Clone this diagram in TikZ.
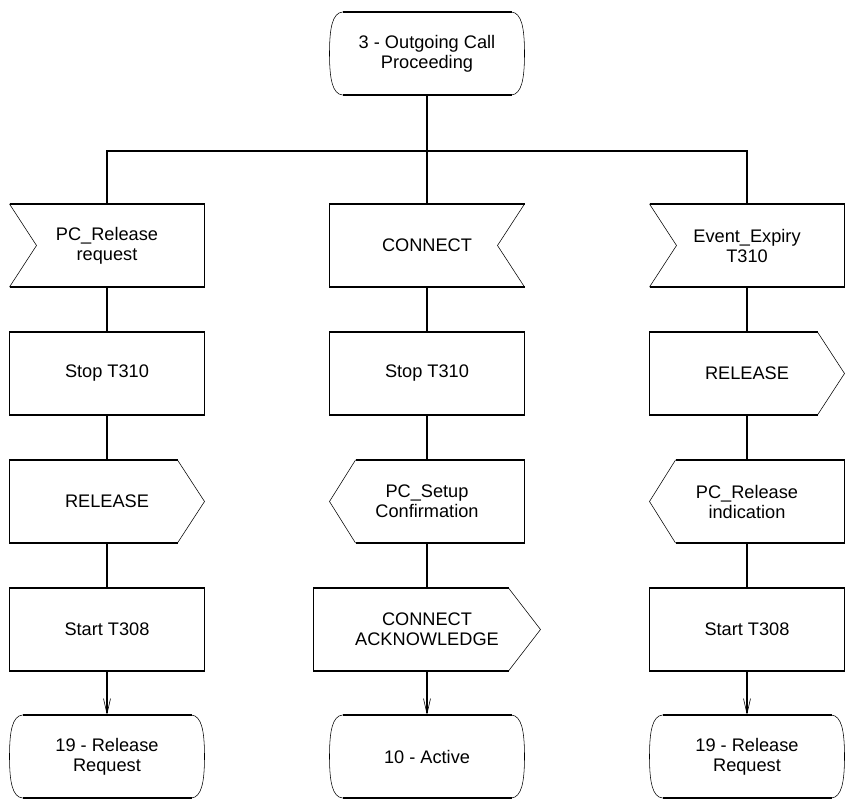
\documentclass[tikz,border=0pt]{standalone}
\usepackage{fontspec}
\setmainfont{Liberation Sans}
\usetikzlibrary{calc,arrows.meta}
\begin{document}
\begin{tikzpicture}[x=1pt,y=-1pt,
  lbl/.style={inner sep=0pt, outer sep=0pt, minimum width=195pt, minimum height=83pt,
    align=center, font=\fontsize{18.2}{20}\selectfont},
  edge/.style={line width=1.1pt},
  slant/.style={line width=0.55pt, line cap=round},
  conn/.style={line width=1.3pt},
  arr/.style={conn, -{Straight Barb[length=15pt,width=7pt,line width=0.6pt]}},
]
\useasboundingbox (0,0) rectangle (847,799);

% nodes
\node[lbl] (s0) at (427,53.5) {3 - Outgoing Call\\Proceeding};
\node[lbl] (l1) at (107,245.5) {PC\_Release\\request};
\node[lbl] (m1) at (427,245.5) {CONNECT};
\node[lbl] (r1) at (747,245.5) {Event\_Expiry\\T310};
\node[lbl] (l2) at (107,373.5) {Stop T310};
\node[lbl] (m2) at (427,373.5) {Stop T310};
\node[lbl] (r2) at (747,373.5) {RELEASE};
\node[lbl] (l3) at (107,501.5) {RELEASE};
\node[lbl] (m3) at (427,501.5) {PC\_Setup\\Confirmation};
\node[lbl] (r3) at (747,501.5) {PC\_Release\\indication};
\node[lbl] (l4) at (107,629.5) {Start T308};
\node[lbl, minimum width=227pt] (m4) at (427,629.5) {CONNECT\\ACKNOWLEDGE};
\node[lbl] (r4) at (747,629.5) {Start T308};
\node[lbl] (l5) at (107,756.5) {19 - Release\\Request};
\node[lbl] (m5) at (427,756.5) {10 - Active};
\node[lbl] (r5) at (747,756.5) {19 - Release\\Request};

% state outlines
\foreach \n in {s0,l5,m5,r5}{
  \draw[edge] ($(\n.north west)+(13,0)$) -- ($(\n.north east)+(-13,0)$);
  \draw[edge] ($(\n.south west)+(13,0)$) -- ($(\n.south east)+(-13,0)$);
  \draw[slant] ($(\n.north east)+(-13,0)$) .. controls ($(\n.north east)+(-3,1)$) and ($(\n.east)+(0,-26)$) .. (\n.east)
     .. controls ($(\n.east)+(0,26)$) and ($(\n.south east)+(-3,-1)$) .. ($(\n.south east)+(-13,0)$);
  \draw[slant] ($(\n.north west)+(13,0)$) .. controls ($(\n.north west)+(3,1)$) and ($(\n.west)+(0,-26)$) .. (\n.west)
     .. controls ($(\n.west)+(0,26)$) and ($(\n.south west)+(3,-1)$) .. ($(\n.south west)+(13,0)$);
}
% task boxes
\foreach \n in {l2,m2,l4,r4}{
  \draw[edge] (\n.north west) rectangle (\n.south east);
}
% input signals, notch on the left
\foreach \n in {l1,r1}{
  \draw[edge] (\n.north west) -- (\n.north east) -- (\n.south east) -- (\n.south west);
  \draw[slant] (\n.north west) -- ($(\n.west)+(27,0)$) -- (\n.south west);
}
% input signal, notch on the right
\foreach \n in {m1}{
  \draw[edge] (\n.north east) -- (\n.north west) -- (\n.south west) -- (\n.south east);
  \draw[slant] (\n.north east) -- ($(\n.east)+(-27,0)$) -- (\n.south east);
}
% output signals pointing right
\foreach \n/\d in {r2/27,l3/27,m4/32}{
  \draw[edge] ($(\n.north east)+(-\d,0)$) -- (\n.north west) -- (\n.south west) -- ($(\n.south east)+(-\d,0)$);
  \draw[slant] ($(\n.north east)+(-\d,0)$) -- (\n.east) -- ($(\n.south east)+(-\d,0)$);
}
% output signals pointing left
\foreach \n in {m3,r3}{
  \draw[edge] ($(\n.north west)+(26,0)$) -- (\n.north east) -- (\n.south east) -- ($(\n.south west)+(26,0)$);
  \draw[slant] ($(\n.north west)+(26,0)$) -- (\n.west) -- ($(\n.south west)+(26,0)$);
}

% connectors
\coordinate (bl) at (107,151);
\coordinate (bm) at (427,151);
\coordinate (br) at (747,151);
\draw[conn] (s0.south) -- (bm);
\draw[conn] (l1.north) -- (bl) -- (br) -- (r1.north);
\draw[conn] (bm) -- (m1.north);
\foreach \c in {l,m,r}{
  \draw[conn] (\c1.south) -- (\c2.north);
  \draw[conn] (\c2.south) -- (\c3.north);
  \draw[conn] (\c3.south) -- (\c4.north);
  \draw[arr] (\c4.south) -- (\c5.north);
}
\end{tikzpicture}
\end{document}
